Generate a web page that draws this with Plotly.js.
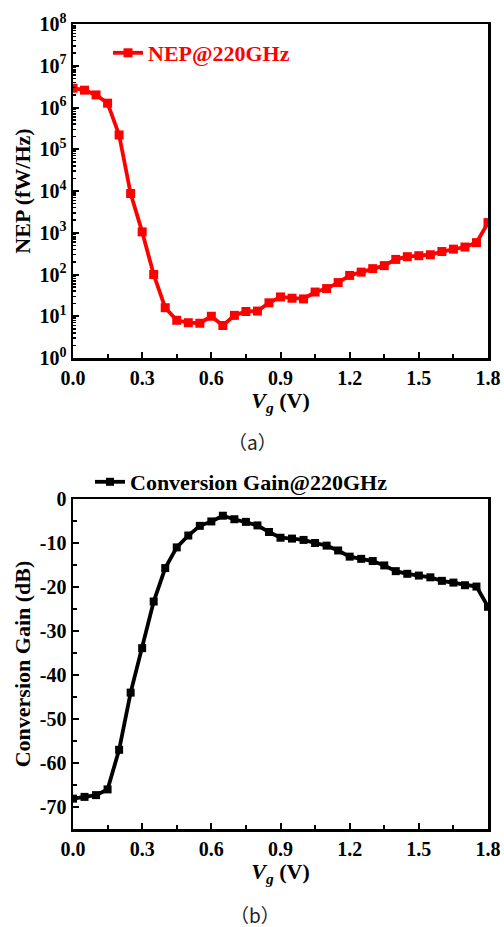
<!DOCTYPE html>
<html>
<head>
<meta charset="utf-8">
<script src="https://cdn.plot.ly/plotly-3.0.1.min.js"></script>
<style>
html,body{margin:0;padding:0;background:#fff;}
#chart{width:504px;height:927px;}
</style>
</head>
<body>
<div id="chart"></div>
<script>
// Gate voltage Vg (V)
const vg = [0.00,0.05,0.10,0.15,0.20,0.25,0.30,0.35,0.40,0.45,0.50,0.55,0.60,0.65,0.70,0.75,0.80,0.85,0.90,0.95,1.00,1.05,1.10,1.15,1.20,1.25,1.30,1.35,1.40,1.45,1.50,1.55,1.60,1.65,1.70,1.75,1.80];
// NEP @ 220 GHz (fW/Hz)
const nep = [2.9e6,2.6e6,2.0e6,1.27e6,2.2e5,8.7e3,1050,100,16,8,7,6.8,10,6,10.5,13,13.3,21,29,27,26,38,46,64,95,114,138,163,230,267,282,297,355,405,455,580,1750];
// Conversion gain @ 220 GHz (dB)
const gain = [-68.1,-67.7,-67.3,-66.0,-57.0,-44.0,-33.9,-23.3,-15.7,-11.0,-8.3,-6.1,-5.1,-3.8,-4.6,-5.2,-6.0,-7.5,-8.8,-9.0,-9.3,-10.0,-10.6,-11.7,-13.1,-13.6,-14.1,-15.1,-16.4,-17.0,-17.4,-17.8,-18.6,-19.0,-19.6,-19.9,-24.5];

const nepTickVals = [1,10,100,1e3,1e4,1e5,1e6,1e7,1e8];
const nepTickText = ['10<sup>0</sup>','10<sup>1</sup>','10<sup>2</sup>','10<sup>3</sup>','10<sup>4</sup>','10<sup>5</sup>','10<sup>6</sup>','10<sup>7</sup>','10<sup>8</sup>'];
const gainTickVals = [0,-10,-20,-30,-40,-50,-60,-70];
const gainTickText = ['0','-10','-20','-30','-40','-50','-60','-70'];
const vgTickVals = [0,0.3,0.6,0.9,1.2,1.5,1.8];
const vgTickText = ['0.0','0.3','0.6','0.9','1.2','1.5','1.8'];

const serif = 'Liberation Serif, Times New Roman, serif';
const tickFont = {family: serif, size: 20, color: '#000', weight: 'bold'};
const titleFont = {family: serif, size: 22, color: '#000', weight: 'bold'};

const traces = [
  {x: vg, y: nep, xaxis: 'x', yaxis: 'y', type: 'scatter', mode: 'lines+markers',
   name: 'NEP@220GHz', legend: 'legend',
   line: {color: '#ff0000', width: 3.8}, marker: {symbol: 'square', size: 9, color: '#ff0000'}},
  {x: vg, y: gain, xaxis: 'x2', yaxis: 'y2', type: 'scatter', mode: 'lines+markers',
   name: 'Conversion Gain@220GHz', legend: 'legend2',
   line: {color: '#000000', width: 3.8}, marker: {symbol: 'square', size: 8, color: '#000000'}}
];

const xDom = [73/504, 488/504];
const commonX = {
  domain: xDom, range: [0, 1.8], tickvals: vgTickVals, ticktext: vgTickText,
  showline: true, mirror: true, linecolor: '#000', linewidth: 2.5,
  ticks: 'inside', ticklen: 6, tickwidth: 2, tickcolor: '#000',
  minor: {tickvals: [0.15,0.45,0.75,1.05,1.35,1.65], ticks: 'inside', ticklen: 4, tickwidth: 2, tickcolor: '#000'},
  showgrid: false, zeroline: false, tickfont: tickFont, fixedrange: true,
  title: {text: '<i>V</i><sub><i>g</i></sub> (V)', font: titleFont, standoff: 5}
};

const layout = {
  width: 504, height: 927,
  margin: {l: 0, r: 0, t: 0, b: 0},
  paper_bgcolor: '#fff', plot_bgcolor: '#fff',
  showlegend: true,
  xaxis: Object.assign({}, commonX, {anchor: 'y'}),
  yaxis: {
    domain: [1-358/927, 1-24/927], type: 'log', range: [0, 8], anchor: 'x',
    tickvals: nepTickVals, ticktext: nepTickText,
    showline: true, mirror: true, linecolor: '#000', linewidth: 2.5,
    ticks: 'inside', ticklen: 6, tickwidth: 2, tickcolor: '#000',
    minor: {dtick: 'D1', ticks: 'inside', ticklen: 3, tickwidth: 1.5, tickcolor: '#000'},
    showgrid: false, zeroline: false, tickfont: tickFont, fixedrange: true,
    title: {text: 'NEP (fW/Hz)', font: titleFont, standoff: 3}
  },
  xaxis2: Object.assign({}, commonX, {anchor: 'y2'}),
  yaxis2: {
    domain: [1-829/927, 1-499/927], range: [-75, 0], anchor: 'x2',
    tickvals: gainTickVals, ticktext: gainTickText,
    showline: true, mirror: true, linecolor: '#000', linewidth: 2.5,
    ticks: 'inside', ticklen: 6, tickwidth: 2, tickcolor: '#000',
    minor: {tickvals: [-5,-15,-25,-35,-45,-55,-65], ticks: 'inside', ticklen: 4, tickwidth: 2, tickcolor: '#000'},
    showgrid: false, zeroline: false, tickfont: tickFont, fixedrange: true,
    title: {text: 'Conversion Gain (dB)', font: titleFont, standoff: 3}
  },
  legend: {x: 108/504, y: 1-53/927, xanchor: 'left', yanchor: 'middle', bgcolor: 'rgba(0,0,0,0)',
    font: {family: serif, size: 22, color: '#ff0000', weight: 'bold'}, borderwidth: 0},
  legend2: {x: 90/504, y: 1-482/927, xanchor: 'left', yanchor: 'middle', bgcolor: 'rgba(0,0,0,0)',
    font: {family: serif, size: 22, color: '#000', weight: 'bold'}, borderwidth: 0},
  annotations: [
    {text: '（a）', xref: 'paper', yref: 'paper', x: 252/504, y: 1-441/927, showarrow: false,
     font: {family: 'Noto Sans CJK SC', size: 19, color: '#222'}, xanchor: 'center', yanchor: 'middle'},
    {text: '（b）', xref: 'paper', yref: 'paper', x: 255/504, y: 1-914/927, showarrow: false,
     font: {family: 'Noto Sans CJK SC', size: 19, color: '#222'}, xanchor: 'center', yanchor: 'middle'}
  ]
};

Plotly.newPlot('chart', traces, layout, {staticPlot: true, displayModeBar: false});
</script>
</body>
</html>
